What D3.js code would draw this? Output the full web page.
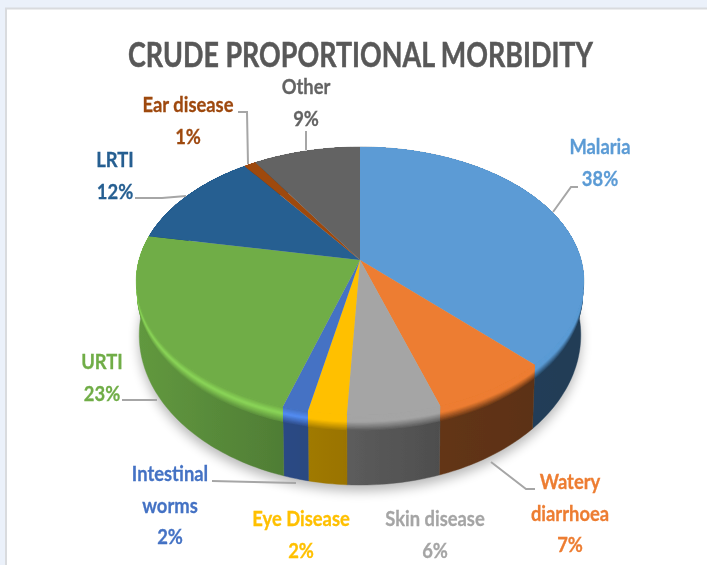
<!DOCTYPE html>
<meta charset="utf-8"/>
<style>
  html, body { margin: 0; padding: 0; background: #ebf1fa; }
  svg { display: block; }
  text { font-family: Lato, "Open Sans", sans-serif; font-weight: 700; text-anchor: middle; }
</style>
<body>
<svg width="707" height="565"></svg>
</body>
<script src="https://d3js.org/d3.v7.min.js"></script>
<script>

  var categories = ["Malaria", "Watery diarrhoea", "Skin disease", "Eye Disease", "Intestinal worms", "URTI", "LRTI", "Ear disease", "Other"]
  // printed labels are rounded, the slice sizes read a bit finer than that
  var values = [37.6, 7.4, 5.8, 2.4, 1.6, 23.2, 12, 1, 9]
  var faceColors = ["#5b9bd5", "#ed7d31", "#a5a5a5", "#ffc000", "#4472c4", "#70ad47", "#255e91", "#9e480e", "#636363"]
  var wallLeft = ["#26445f", "#633516", "#5c5c5c", "#a07a00", "#2c4a85", "#62993f", "#183c5d", "#622c09", "#3e3e3e"]
  var wallRight = ["#203c56", "#5c3113", "#4e4e4e", "#9a7300", "#2a4880", "#4f7d35", "#183c5d", "#622c09", "#3e3e3e"]
  var rimLift = [0, 0, 0, 0, 0.3, 0.3, 0, 0, 0]

  // label name lines and where they go (centre x, first baseline), leader polylines
  var labelLines = [
    ["Malaria"], ["Watery", "diarrhoea"], ["Skin disease"], ["Eye Disease"],
    ["Intestinal", "worms"], ["URTI"], ["LRTI"], ["Ear disease"], ["Other"]
  ]
  var labelX = [600, 570, 435, 301, 170, 102, 115, 188, 306]
  var labelY = [154, 489, 526, 526, 481, 369, 167, 112, 94]
  var leaders = [
    [[553, 212], [571, 187], [578, 187]],
    [[491, 462], [526, 489], [535, 489]],
    null, null,
    [[296, 483], [212, 481]],
    [[157, 400], [122, 400]],
    [[186, 196], [162, 198], [135, 198]],
    [[248, 164], [247, 112], [238, 112]],
    [[306, 150], [306, 131]]
  ]

  var svg = d3.select("svg")
  var defs = svg.append("defs")
  defs.append("filter").attr("id", "soft").attr("x", "-5%").attr("y", "-5%").attr("width", "110%").attr("height", "110%")
    .append("feGaussianBlur").attr("stdDeviation", 0.45)
  defs.append("filter").attr("id", "shadow").attr("x", "-10%").attr("y", "-10%").attr("width", "120%").attr("height", "130%")
    .append("feGaussianBlur").attr("stdDeviation", 6)

  svg.append("rect").attr("x", 6).attr("y", 8.5).attr("width", 720).attr("height", 600)
    .attr("fill", "#fff").attr("stroke", "#d9dbde").attr("stroke-width", 2)

  // pie is seen in perspective, so the centre of the wedges is not the centre of the ellipse
  var cx = 360, hubY = 260, radius = 221, flat = 130.7, persp = 0.157
  var topCy = 281, topRx = 224, topRy = 134
  var botCy = 335, botRx = 221, botRy = 150

  var pie = d3.pie().sort(null).value(function (d) { return d })
  var arcs = pie(values)
  var color = d3.scaleOrdinal().domain(categories).range(faceColors)

  // angle on the pie -> screen point, t = 0 on top face, t = 1 on the bottom edge
  function project(a, t) {
    var u = Math.sin(a), v = -Math.cos(a)
    var d = 1 - persp * v
    var ex = (radius * u / d) / topRx
    var ey = (hubY + flat * v / d - topCy) / topRy
    return [
      cx + ex * (topRx + (botRx - topRx) * t),
      topCy + (botCy - topCy) * t + ey * (topRy + (botRy - topRy) * t)
    ]
  }

  function arcPoints(a0, a1, t) {
    var n = Math.max(2, Math.ceil((a1 - a0) / 0.02))
    return d3.range(n + 1).map(function (i) { return project(a0 + (a1 - a0) * i / n, t) })
  }

  var line = d3.line()

  var chart = svg.append("g")

  // ground shadow
  chart.append("path")
    .attr("d", line(arcPoints(0, 2 * Math.PI, 1)) + "Z")
    .attr("transform", "translate(0,6)")
    .attr("fill", "#000").attr("opacity", 0.28)
    .attr("filter", "url(#shadow)")

  var pieGroup = chart.append("g").attr("filter", "url(#soft)")

  // walls
  arcs.forEach(function (d, i) {
    var grad = defs.append("linearGradient").attr("id", "wall" + i)
      .attr("gradientUnits", "objectBoundingBox")
    grad.append("stop").attr("offset", "0%").attr("stop-color", wallLeft[i])
    grad.append("stop").attr("offset", "100%").attr("stop-color", wallRight[i])
    var pts = arcPoints(d.startAngle, d.endAngle, 1)
      .concat(arcPoints(d.startAngle, d.endAngle, 0).reverse())
    pieGroup.append("path")
      .attr("d", line(pts) + "Z")
      .attr("fill", "url(#wall" + i + ")")
      .attr("stroke", "url(#wall" + i + ")").attr("stroke-width", 0.4)
  })

  // bevel: bands that fade from the face colour into the wall, painted
  // bottom up and overlapping so no seams show between them
  var bevelSteps = 14, bevelDepth = 0.22
  d3.range(bevelSteps).reverse().forEach(function (k) {
    var f = k / bevelSteps
    arcs.forEach(function (d, i) {
      var mid = d3.interpolateRgb(wallLeft[i], wallRight[i])(0.5)
      var light = d3.rgb(faceColors[i]).brighter(rimLift[i] * 2).formatHex()
      var c = f < 0.4
        ? d3.interpolateRgb(faceColors[i], light)(f / 0.4)
        : d3.interpolateRgb(light, mid)((f - 0.4) / 0.6)
      var pts = arcPoints(d.startAngle, d.endAngle, bevelDepth * (k + 1) / bevelSteps)
        .concat(arcPoints(d.startAngle, d.endAngle, 0).reverse())
      pieGroup.append("path").attr("d", line(pts) + "Z").attr("fill", c)
    })
  })

  // top face
  pieGroup.selectAll("path.face")
    .data(arcs)
    .enter().append("path")
    .attr("class", "face")
    .attr("d", function (d) {
      return line([[cx, hubY]].concat(arcPoints(d.startAngle, d.endAngle, 0))) + "Z"
    })
    .attr("fill", function (d, i) { return color(categories[i]) })

  // leaders
  var textGroup = svg.append("g").attr("filter", "url(#soft)")
  leaders.forEach(function (pts) {
    if (!pts) return
    textGroup.append("path").attr("d", line(pts))
      .attr("fill", "none").attr("stroke", "#a6a6a6").attr("stroke-width", 2)
  })

  // labels, squeezed sideways like the original picture
  labelLines.forEach(function (lines, i) {
    lines.concat(Math.round(values[i]) + "%").forEach(function (s, j) {
      textGroup.append("text")
        .attr("transform", "translate(" + labelX[i] + "," + (labelY[i] + j * 31.5) + ") scale(0.86,1)")
        .attr("font-size", 21.4)
        .attr("fill", color(categories[i]))
        .attr("stroke", color(categories[i])).attr("stroke-width", 0.3)
        .text(s)
    })
  })

  // title is also squeezed to the original's width
  var title = textGroup.append("text")
    .attr("font-size", 35)
    .attr("fill", "#595959")
    .attr("stroke", "#595959").attr("stroke-width", 0.5)
    .text("CRUDE PROPORTIONAL MORBIDITY")
  var titleScale = 465 / title.node().getComputedTextLength()
  title.attr("transform", "translate(360.5,67) scale(" + titleScale + ",1)")

</script>
